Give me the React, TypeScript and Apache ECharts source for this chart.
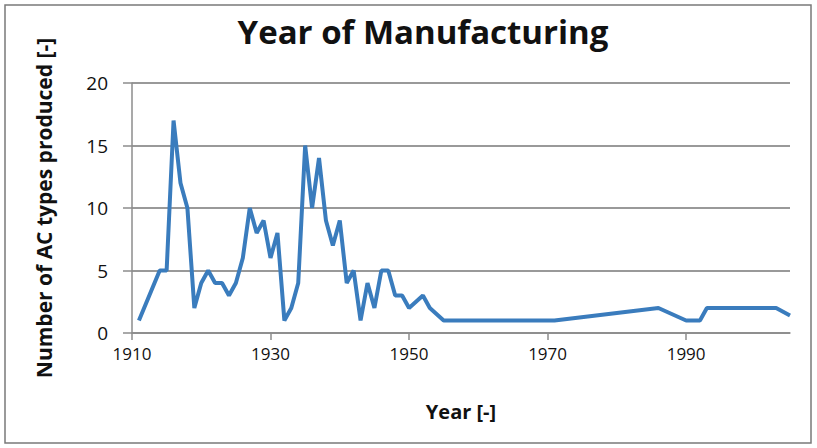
import React, { useEffect, useRef } from "react";
import * as echarts from "echarts";

const years = [1911, 1914, 1915, 1916, 1917, 1918, 1919, 1920, 1921, 1922, 1923, 1924, 1925, 1926, 1927, 1928, 1929, 1930, 1931, 1932, 1933, 1934, 1935, 1936, 1937, 1938, 1939, 1940, 1941, 1942, 1943, 1944, 1945, 1946, 1947, 1948, 1949, 1950, 1951, 1952, 1953, 1954, 1955, 1971, 1986, 1990, 1992, 1993, 2003, 2005];
const counts = [1, 5, 5, 17, 12, 10, 2, 4, 5, 4, 4, 3, 4, 6, 10, 8, 9, 6, 8, 1, 2, 4, 15, 10, 14, 9, 7, 9, 4, 5, 1, 4, 2, 5, 5, 3, 3, 2, 2.5, 3, 2, 1.5, 1, 1, 2, 1, 1, 2, 2, 1.4];

const titleText = "Year of Manufacturing";
const xName = "Year [-]";
const yName = "Number of AC types produced [-]";

export default function App() {
  const ref = useRef<HTMLDivElement>(null);
  useEffect(() => {
    if (!ref.current) return;
    const chart = echarts.init(ref.current, null, { renderer: "svg" });
    const font = "'Open Sans', sans-serif";
    chart.setOption({
      animation: false,
      backgroundColor: "#ffffff",
      title: {
        text: titleText,
        left: 418,
        top: 10,
        textAlign: "center",
        textStyle: { fontFamily: font, fontSize: 33, fontWeight: "bold", color: "#111" },
      },
      graphic: [
        {
          type: "rect",
          shape: { x: 5, y: 5, width: 806, height: 438 },
          style: { fill: "none", stroke: "#7a7a7a", lineWidth: 1.5 },
          silent: true,
        },
      ],
      grid: { left: 132, right: 27, top: 83, bottom: 115 },
      xAxis: {
        type: "value",
        min: 1910,
        max: 2005,
        interval: 20,
        name: xName,
        nameLocation: "middle",
        nameGap: 68,
        nameTextStyle: { fontFamily: font, fontSize: 20, fontWeight: "bold", color: "#111" },
        axisLine: { show: true, lineStyle: { color: "#8c8c8c", width: 1.5 } },
        axisTick: { show: true, length: 7, lineStyle: { color: "#8c8c8c", width: 1.5 } },
        axisLabel: {
          fontFamily: font,
          fontSize: 17,
          color: "#111",
          margin: 12,
          showMaxLabel: false,
          formatter: (v: number) => String(v),
        },
        splitLine: { show: false },
      },
      yAxis: {
        type: "value",
        min: 0,
        max: 20,
        interval: 5,
        name: yName,
        nameLocation: "middle",
        nameGap: 78,
        nameTextStyle: { fontFamily: font, fontSize: 21, fontWeight: "bold", color: "#111" },
        axisLine: { show: true, lineStyle: { color: "#8c8c8c", width: 1.5 } },
        axisTick: { show: true, length: 9, lineStyle: { color: "#8c8c8c", width: 1.5 } },
        axisLabel: { fontFamily: font, fontSize: 19, color: "#111", margin: 24 },
        splitLine: { show: true, lineStyle: { color: "#999999", width: 2 } },
      },
      series: [
        {
          type: "line",
          data: years.map((y, i) => [y, counts[i]]),
          showSymbol: false,
          symbol: "none",
          lineStyle: { color: "#3a7cbd", width: 4 },
          itemStyle: { color: "#3a7cbd" },
        },
      ],
    });
    return () => chart.dispose();
  }, []);
  return <div ref={ref} style={{ width: 817, height: 448, position: "absolute", left: 0, top: 0 }} />;
}
